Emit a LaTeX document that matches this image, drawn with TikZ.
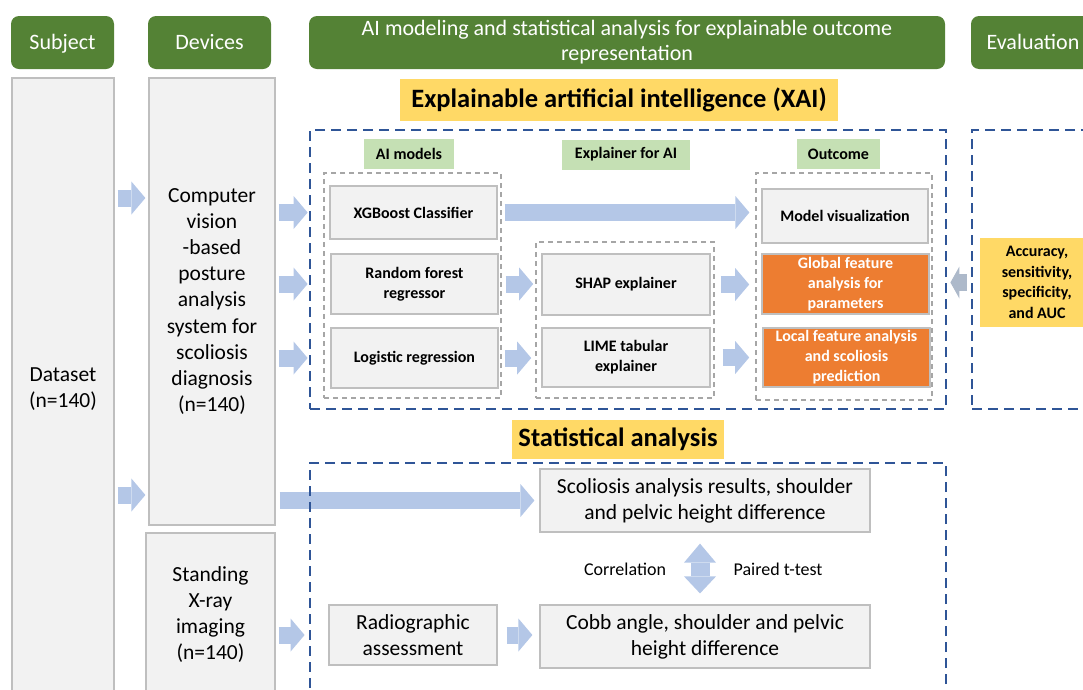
\documentclass[tikz,border=0pt]{standalone}
\usepackage{fontspec}
\setmainfont{Carlito}
\usetikzlibrary{arrows.meta, backgrounds}

\definecolor{hdrgreen}{HTML}{548235}
\definecolor{lblgreen}{HTML}{C5E0B4}
\definecolor{boxgray}{HTML}{F2F2F2}
\definecolor{boxline}{HTML}{BFBFBF}
\definecolor{outorange}{HTML}{ED7D31}
\definecolor{ttlyellow}{HTML}{FFD966}
\definecolor{dashblue}{HTML}{2F5597}
\definecolor{grpgray}{HTML}{A6A6A6}
\definecolor{arrowblue}{HTML}{B4C7E7}
\definecolor{evalarrow}{HTML}{ADB9CA}

\begin{document}
\begin{tikzpicture}[x=1pt,y=-1pt,
    hdr/.style={fill=hdrgreen, text=white, rounded corners=8pt, minimum height=53pt, inner sep=0pt, align=center, font=\fontsize{22}{25}\selectfont},
    gbox/.style={fill=boxgray, draw=boxline, line width=1.2pt, inner sep=0pt, align=center, font=\fontsize{21.5}{26.2}\selectfont},
    mbox/.style={gbox, font=\bfseries\fontsize{16}{20}\selectfont},
    obox/.style={mbox, fill=outorange, text=white},
    lbl/.style={fill=lblgreen, inner sep=0pt, minimum height=30pt, font=\bfseries\fontsize{16}{20}\selectfont},
    ttl/.style={fill=ttlyellow, inner sep=0pt, font=\bfseries\fontsize{26.5}{30}\selectfont},
    xdash/.style={draw=dashblue, line width=2.8pt, dash pattern=on 10pt off 6pt, inner sep=0pt},
    gdash/.style={draw=grpgray, line width=1.6pt, dash pattern=on 5pt off 4pt, inner sep=0pt},
    blk/.style={draw=arrowblue, line width=17pt, -{Triangle[length=14pt,width=33pt,line width=0pt]}},
    note/.style={font=\fontsize{18}{22}\selectfont}]
    \useasboundingbox (0,0) rectangle (1083,689);
    \clip (0,0) rectangle (1083,689);

    % column headers
    \node[hdr, minimum width=103pt, text height=15pt, text depth=2pt] (subj) at (62.5,42.5) {Subject};
    \node[hdr, minimum width=123pt, text height=15pt, text depth=2pt] (dev) at (209.5,42.5) {Devices};
    \node[hdr, minimum width=636pt] (aimod) at (627,42.5) {AI modeling and statistical analysis for explainable outcome\\representation};
    \node[hdr, minimum width=124pt, text height=15pt, text depth=2pt] (eval) at (1033,42.5) {Evaluation};

    % subject and devices
    \node[gbox, minimum width=102pt, minimum height=622pt] (dataset) at (63,389) {Dataset\\(n=140)};
    \node[gbox, minimum width=126pt, minimum height=447pt] (cv) at (212,301.5) {Computer\\vision\\-based\\posture\\analysis\\system for\\scoliosis\\diagnosis\\(n=140)};
    \node[gbox, minimum width=129pt, minimum height=163pt] (xray) at (210.5,614.5) {Standing\\X-ray\\imaging\\(n=140)};

    % XAI part
    \node[ttl, minimum width=438pt, minimum height=42pt] (xaititle) at (619,100) {Explainable artificial intelligence (XAI)};
    \node[xdash, minimum width=636pt, minimum height=279pt] (xaibox) at (628,269.5) {};
    \node[xdash, minimum width=128pt, minimum height=279pt] (evalbox) at (1036,269.5) {};

    \node[lbl, minimum width=90pt] (lblmod) at (409,154) {AI models};
    \node[lbl, minimum width=128pt] (lblexp) at (626,154.5) {Explainer for AI};
    \node[lbl, minimum width=83pt] (lblout) at (838.5,154) {Outcome};

    \node[gdash, minimum width=177pt, minimum height=225pt] (grpmod) at (412.5,285.5) {};
    \node[gdash, minimum width=178pt, minimum height=156pt] (grpexp) at (625,320) {};
    \node[gdash, minimum width=176pt, minimum height=227pt] (grpout) at (844,286.5) {};

    \node[mbox, minimum width=167pt, minimum height=53pt] (xgb) at (413.5,212.5) {XGBoost Classifier};
    \node[mbox, minimum width=167pt, minimum height=60pt] (rf) at (414.5,284) {Random forest\\regressor};
    \node[mbox, minimum width=167pt, minimum height=60pt] (lr) at (414.5,358) {Logistic regression};
    \node[mbox, minimum width=168pt, minimum height=61pt] (shap) at (626,284.5) {SHAP explainer};
    \node[mbox, minimum width=168pt, minimum height=59pt] (lime) at (626,357.5) {LIME tabular\\explainer};
    \node[mbox, minimum width=166pt, minimum height=54pt] (modvis) at (845,216) {Model visualization};
    \node[obox, minimum width=167pt, minimum height=60pt] (glob) at (845.5,284) {Global feature\\analysis for\\parameters};
    \node[obox, minimum width=167pt, minimum height=59pt] (loc) at (846.5,357.5) {Local feature analysis\\and scoliosis\\prediction};

    \node[ttl, minimum width=114pt, minimum height=89pt, align=center, font=\bfseries\fontsize{16}{20.5}\selectfont] (acc) at (1037,282.5) {Accuracy,\\sensitivity,\\specificity,\\and AUC};

    % statistical part
    \node[ttl, minimum width=212pt, minimum height=39pt] (stattitle) at (618,439.5) {Statistical analysis};
    \node[xdash, minimum width=636pt, minimum height=257pt] (statbox) at (628,591.5) {};
    \node[gbox, minimum width=330pt, minimum height=63pt] (scol) at (705,500.5) {Scoliosis analysis results, shoulder\\and pelvic height difference};
    \node[gbox, minimum width=330pt, minimum height=63pt] (cobb) at (705,636.5) {Cobb angle, shoulder and pelvic\\height difference};
    \node[gbox, minimum width=168pt, minimum height=60pt] (radio) at (413,635) {Radiographic\\assessment};
    \node[note] (corr) at (625,569) {Correlation};
    \node[note] (ttest) at (778,569) {Paired t-test};

    \coordinate (row1) at (0,198);
    \coordinate (row2) at (0,495);

    % block arrows
    \begin{scope}[on background layer]
    \draw[blk, shorten <=3pt, shorten >=3pt] (dataset.east |- row1) -- (cv.west |- row1);
    \draw[blk, shorten <=3pt, shorten >=3pt] (dataset.east |- row2) -- (cv.west |- row2);
    \draw[blk, shorten <=3pt, shorten >=1pt] (cv.east |- xgb) -- (xaibox.west |- xgb);
    \draw[blk, shorten <=3pt, shorten >=1pt] (cv.east |- rf) -- (xaibox.west |- rf);
    \draw[blk, shorten <=3pt, shorten >=1pt] (cv.east |- lr) -- (xaibox.west |- lr);
    \draw[blk, shorten <=7pt, shorten >=12pt] (xgb.east) -- (xgb.east -| modvis.west);
    \draw[blk, shorten <=7pt, shorten >=2pt] (rf.east) -- (rf.east -| grpexp.west);
    \draw[blk, shorten <=6pt, shorten >=4pt] (lr.east) -- (lr.east -| grpexp.west);
    \draw[blk, shorten <=10pt, shorten >=6pt] (shap.east) -- (shap.east -| grpout.west);
    \draw[blk, shorten <=12pt, shorten >=6pt] (lime.east) -- (lime.east -| grpout.west);
    \draw[blk, draw=evalarrow, -{Triangle[length=9pt,width=32pt,line width=0pt]}, shorten <=13pt, shorten >=3pt] (acc.west) -- (acc.west -| xaibox.east);
    \draw[blk, shorten <=4pt, shorten >=5pt] (cv.east |- scol) -- (scol.west);
    \draw[blk, shorten <=3pt, shorten >=4pt] (xray.east |- radio) -- (statbox.west |- radio);
    \draw[blk, shorten <=9pt, shorten >=7pt] (radio.east) -- (radio.east -| cobb.west);
    \draw[blk, line width=19pt, {Triangle[length=19pt,width=32pt,line width=0pt]}-{Triangle[length=17pt,width=32pt,line width=0pt]}, shorten <=11pt, shorten >=11pt] ([xshift=-5pt]scol.south) -- ([xshift=-5pt]cobb.north);
    \end{scope}
\end{tikzpicture}
\end{document}
